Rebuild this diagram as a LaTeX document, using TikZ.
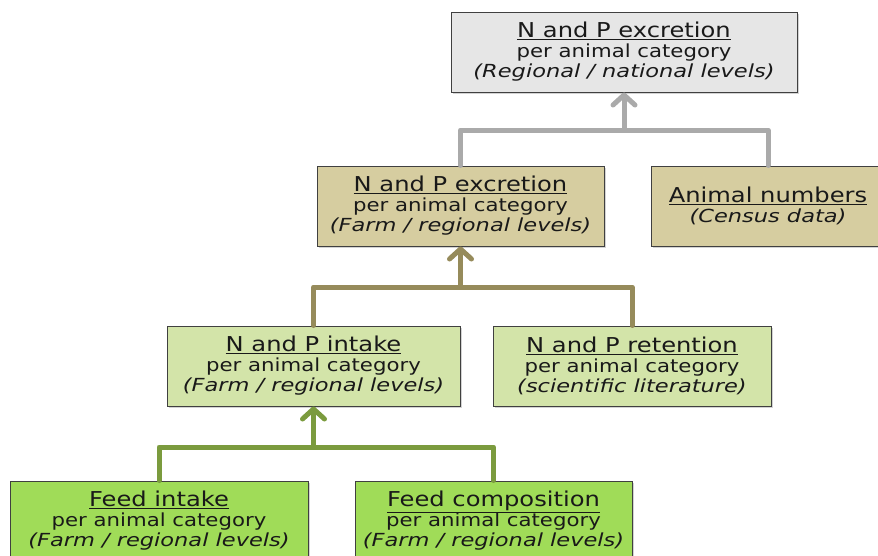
\documentclass[tikz,border=0pt]{standalone}
\usepackage{fontspec}
\setmainfont{DejaVu Sans}[FakeStretch=1.18,ItalicFeatures={FakeStretch=1.25}]
\usetikzlibrary{arrows.meta,shadows}

\definecolor{boxgray}{HTML}{E6E6E6}
\definecolor{boxtan}{HTML}{D6CDA0}
\definecolor{boxlight}{HTML}{D3E4A9}
\definecolor{boxgreen}{HTML}{A0DC58}
\definecolor{edgegray}{HTML}{AAAAAA}
\definecolor{edgetan}{HTML}{968B5B}
\definecolor{edgegreen}{HTML}{7B9B3E}

\newcommand{\hd}[1]{{\fontsize{20.5}{20}\selectfont\underline{#1}}}

\begin{document}
\begin{tikzpicture}[x=1pt,y=-1pt,
  catbox/.style={draw=black!75,line width=1pt,align=center,minimum height=80pt,
    inner sep=2pt,text=black!90,font=\fontsize{18}{20}\selectfont,
    drop shadow={shadow xshift=2pt,shadow yshift=-2pt,opacity=0.35}},
  link/.style={line width=5pt,line cap=round,line join=round},
  up/.style={link,-{Straight Barb[length=10pt,width=22pt,round]}}]
\useasboundingbox (0,0) rectangle (878,555);

% nodes
\node [catbox,fill=boxgray,minimum width=346pt] (national) at (624,52)
  {\hd{N and P excretion}\\ per animal category\\ \textit{(Regional / national levels)}};
\node [catbox,fill=boxtan,minimum width=287pt] (excretion) at (460.5,206)
  {\hd{N and P excretion}\\ per animal category\\ \textit{(Farm / regional levels)}};
\node [catbox,fill=boxtan,minimum width=234pt] (animals) at (768,206)
  {\hd{Animal numbers}\\ \textit{(Census data)}};
\node [catbox,fill=boxlight,minimum width=293pt] (intake) at (313.5,366)
  {\hd{N and P intake}\\ per animal category\\ \textit{(Farm / regional levels)}};
\node [catbox,fill=boxlight,minimum width=278pt] (retention) at (632,366)
  {\hd{N and P retention}\\ per animal category\\ \textit{(scientific literature)}};
\node [catbox,fill=boxgreen,minimum width=298pt] (feed) at (159,521)
  {\hd{Feed intake}\\ per animal category\\ \textit{(Farm / regional levels)}};
\node [catbox,fill=boxgreen,minimum width=277pt] (composition) at (493.5,521)
  {\hd{Feed composition}\\ per animal category\\ \textit{(Farm / regional levels)}};

% junctions
\coordinate (j1) at (624,130);
\coordinate (j2) at (460.5,287);
\coordinate (j3) at (313.5,447);

% connectors
\draw [link,edgegray] (excretion.north) |- (j1) -| (animals.north);
\draw [up,edgegray] (j1) -- (national.south);
\draw [link,edgetan] (intake.north) |- (j2) -| (retention.north);
\draw [up,edgetan] (j2) -- (excretion.south);
\draw [link,edgegreen] (feed.north) |- (j3) -| (composition.north);
\draw [up,edgegreen] (j3) -- (intake.south);
\end{tikzpicture}
\end{document}
